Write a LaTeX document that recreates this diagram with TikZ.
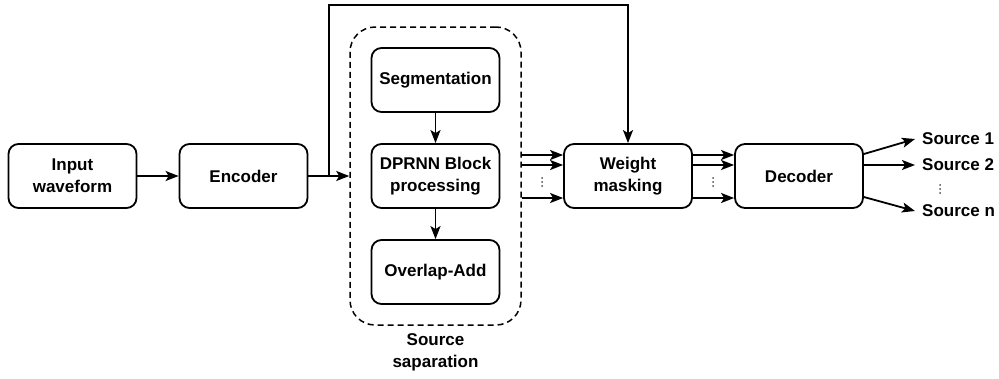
\documentclass[tikz,border=0pt]{standalone}
\usepackage{fontspec}
\setmainfont{Liberation Sans}
\usetikzlibrary{arrows.meta,calc}
\begin{document}
\begin{tikzpicture}[x=1pt,y=-1pt,
  box/.style={draw,line width=1.8pt,rounded corners=10pt,minimum width=128pt,minimum height=64pt,align=center,inner sep=2pt,font=\fontsize{17}{22}\selectfont\bfseries},
  arr/.style={line width=1.8pt,-{Stealth[length=13pt,width=10pt,inset=3pt]}},
  lbl/.style={font=\fontsize{17}{22}\selectfont\bfseries,align=center},
  vdot/.pic={\foreach \d in {-4,0,4}{\fill[black!70] (0,\d) circle[radius=1pt];}}]
\useasboundingbox (0,0) rectangle (999,378);
\node[box] (in) at (72.5,176) {Input\\waveform};
\node[box] (enc) at (243.5,176) {Encoder};
\node[draw,line width=1.5pt,dash pattern=on 6pt off 4pt,rounded corners=25pt,minimum width=171pt,minimum height=298pt] (sep) at (435.5,176) {};
\node[box] (seg) at (435.5,80) {Segmentation};
\node[box] (dp) at (435.5,176) {DPRNN Block\\processing};
\node[box] (ov) at (435.5,272) {Overlap-Add};
\node[lbl] (sl) at (435.5,352) {Source\\saparation};
\node[box] (wm) at (628,176) {Weight\\masking};
\node[box] (dec) at (799,176) {Decoder};
\node[lbl,anchor=west,inner xsep=7pt,inner ysep=0pt] (s1) at (915,139) {Source 1};
\node[lbl,anchor=west,inner xsep=7pt,inner ysep=0pt] (s2) at (915,165) {Source 2};
\node[lbl,anchor=west,inner xsep=7pt,inner ysep=0pt] (sn) at (915,211) {Source n};
\pic at (542,182) {vdot};
\pic at (713,182) {vdot};
\pic at (940,189) {vdot};
\coordinate (l1) at (0,155);
\coordinate (l2) at (0,165);
\coordinate (l3) at (0,198);
\coordinate (tap) at (329,176);
\coordinate (top) at (0,5);
\draw[arr] (in) -- (enc);
\draw[arr] (enc) -- (sep);
\draw[arr] (tap) -- (tap |- top) -- (wm.north |- top) -- (wm.north);
\draw[arr] (seg) -- (dp);
\draw[arr] (dp) -- (ov);
\foreach \l in {l1,l2,l3}{
  \draw[arr] (sep.east |- \l) -- (wm.west |- \l);
  \draw[arr] (wm.east |- \l) -- (dec.west |- \l);
}
\draw[arr] (dec.east |- 0,154) -- (s1.west);
\draw[arr] (dec.east |- s2) -- (s2.west);
\draw[arr] (dec.east |- 0,197) -- (sn.west);
\end{tikzpicture}
\end{document}
